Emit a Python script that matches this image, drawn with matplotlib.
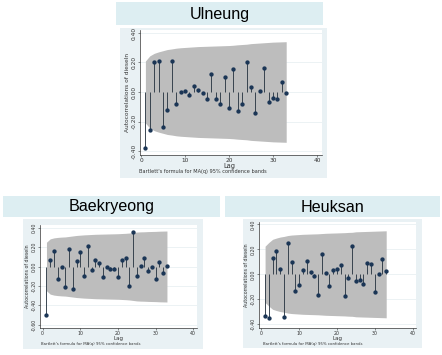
import matplotlib
matplotlib.use("Agg")
import matplotlib.pyplot as plt
from matplotlib.patches import Rectangle
import numpy as np

# ---- data ----------------------------------------------------------------
lags = np.arange(1, 34)

ulneung_acf = [-0.38, -0.26, 0.20, 0.21, -0.235, -0.12, 0.21, -0.08, 0.00, 0.01,
               -0.02, 0.04, 0.015, -0.005, -0.05, 0.125, -0.05, -0.08, 0.10, -0.11,
               0.155, -0.13, -0.08, 0.205, 0.036, -0.14, 0.01, 0.16, -0.07, -0.04,
               -0.05, 0.07, -0.01]
ulneung_band = [0.21, 0.245, 0.262, 0.272, 0.28, 0.288, 0.292, 0.297, 0.30, 0.302,
                0.304, 0.306, 0.308, 0.309, 0.31, 0.311, 0.312, 0.313, 0.314, 0.315,
                0.317, 0.32, 0.322, 0.324, 0.328, 0.33, 0.332, 0.334, 0.336, 0.338,
                0.339, 0.34, 0.341]

baek_acf = [-0.495, 0.072, 0.16, -0.134, 0.0, -0.213, 0.18, -0.237, 0.055, 0.15,
            -0.10, 0.213, -0.038, 0.072, 0.038, -0.107, -0.01, -0.027, -0.03, -0.107,
            0.069, 0.089, -0.206, 0.357, -0.103, 0.003, 0.089, -0.048, 0.0, -0.124,
            0.048, -0.072, 0.01]
baek_band = [0.25, 0.285, 0.295, 0.30, 0.303, 0.305, 0.31, 0.315, 0.32, 0.323,
             0.326, 0.328, 0.33, 0.332, 0.333, 0.334, 0.335, 0.336, 0.337, 0.338,
             0.34, 0.342, 0.345, 0.35, 0.355, 0.357, 0.358, 0.36, 0.361, 0.362,
             0.364, 0.365, 0.366]

heuk_acf = [-0.33, -0.347, 0.128, 0.187, 0.043, -0.339, 0.248, 0.099, -0.136, -0.083,
            0.035, 0.109, 0.019, -0.011, -0.165, 0.163, 0.011, -0.091, 0.037, 0.043,
            0.077, -0.173, -0.032, 0.227, -0.051, -0.043, -0.075, 0.091, 0.083, -0.144,
            0.005, 0.125, 0.024]
heuk_band = [0.225, 0.255, 0.28, 0.29, 0.298, 0.303, 0.31, 0.314, 0.316, 0.318,
             0.32, 0.321, 0.322, 0.323, 0.324, 0.326, 0.328, 0.329, 0.33, 0.331,
             0.332, 0.333, 0.335, 0.336, 0.34, 0.341, 0.342, 0.343, 0.344, 0.345,
             0.346, 0.347, 0.348]

xticks = [0, 10, 20, 30, 40]
yticks_ul = [0.40, 0.20, 0.00, -0.20, -0.40]
yticks_bk = [0.40, 0.20, 0.00, -0.20, -0.40, -0.60]
yticks_hk = [0.40, 0.20, 0.00, -0.20, -0.40]

ylab = "Autocorrelations of dieseln"
note = "Bartlett's formula for MA(q) 95% confidence bands"

# ---- layout (pixels, origin top-left) -------------------------------------
W, H = 442, 355
TITLE_BG = "#DDEEF2"
FRAME_BG = "#E9F1F4"
BAND = "#BDBDBD"
NAVY = "#1A3555"

fig = plt.figure(figsize=(W / 100, H / 100), dpi=100)
fig.patch.set_facecolor("white")


def rect(x0, y0, x1, y1, color):
    fig.patches.append(Rectangle((x0 / W, 1 - y1 / H), (x1 - x0) / W, (y1 - y0) / H,
                                 transform=fig.transFigure, facecolor=color,
                                 edgecolor="none", zorder=-5))


def ftext(x, y, s, **kw):
    fig.text(x / W, 1 - y / H, s, **kw)


def panel(title, tbox, frame, plot, xcal, ycal, acf, band, yticks, fs, lag_xy, note_xy):
    rect(*tbox, TITLE_BG)
    ftext((tbox[0] + tbox[2]) / 2, (tbox[1] + tbox[3]) / 2 + 0.5, title,
          ha="center", va="center", fontsize=11.6, family="Liberation Sans")
    rect(*frame, FRAME_BG)

    L, T, R, B = plot
    ax = fig.add_axes([L / W, 1 - B / H, (R - L) / W, (B - T) / H])
    # map pixel calibration to data limits
    p0, p40 = xcal
    s = (p40 - p0) / 40
    ax.set_xlim((L - p0) / s, (R - p0) / s)
    (v1, py1), (v2, py2) = ycal
    sy = (py2 - py1) / (v2 - v1)
    ax.set_ylim(v1 + (B - py1) / sy, v1 + (T - py1) / sy)

    ax.set_facecolor("white")
    for yt in yticks:
        ax.axhline(yt, color="#E4EDF0", lw=0.5, zorder=0)
    ax.fill_between(lags, -np.array(band), band, color=BAND, lw=0, zorder=1)
    ax.vlines(lags, 0, acf, color="#2E3A46", lw=0.65, zorder=2)
    ax.plot(lags, acf, "o", ms=2.1, color=NAVY, mec=NAVY, zorder=3)

    for sp in ["top", "right"]:
        ax.spines[sp].set_visible(False)
    for sp in ["left", "bottom"]:
        ax.spines[sp].set_linewidth(0.5)
        ax.spines[sp].set_color("#333333")
    ax.set_xticks(xticks)
    ax.set_yticks(yticks)
    ax.set_yticklabels([f"{v:.2f}" for v in yticks], rotation=90, va="center")
    ax.tick_params(length=1.6, width=0.4, pad=0.6, labelsize=fs, colors="#333333")
    ax.set_ylabel(ylab, fontsize=fs, labelpad=1.5, color="#333333")
    ftext(*lag_xy, "Lag", ha="center", va="center", fontsize=fs + 0.6, color="#333333")
    ftext(*note_xy, note, ha="left", va="center", fontsize=fs - 0.6, color="#333333")
    return ax


panel("Ulneung", (116, 2, 323, 25), (120, 28, 327, 178), (140, 30, 322, 155),
      (141, 317), ((0.40, 33), (-0.40, 151)), ulneung_acf, ulneung_band,
      yticks_ul, 4.2, (229, 165.5), (139, 171.5))

panel("Baekryeong", (3, 196, 220, 217), (23, 219, 203, 349), (40, 225, 197, 327.7),
      (42.7, 193.3), ((0.40, 227.7), (-0.60, 324.7)), baek_acf, baek_band,
      yticks_bk, 3.4, (118.3, 338.3), (41, 344))

panel("Heuksan", (225, 196, 440, 217), (243, 219, 422, 348), (259.3, 221.7, 416, 328.3),
      (261.3, 412.7), ((0.40, 224.3), (-0.40, 324.3)), heuk_acf, heuk_band,
      yticks_hk, 3.4, (337.7, 338.8), (263, 343.8))

fig.savefig("out.png", dpi=100)
